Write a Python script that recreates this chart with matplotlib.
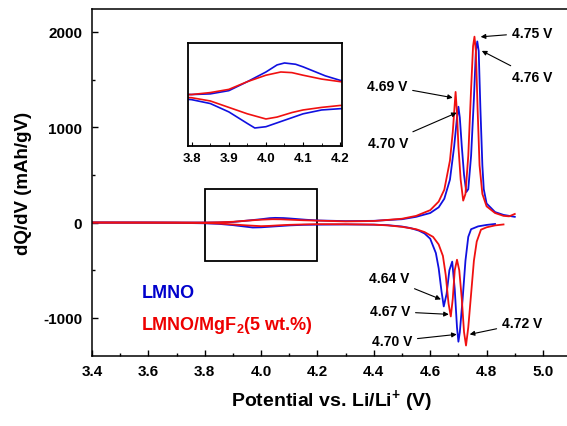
import matplotlib
matplotlib.use("Agg")
import matplotlib.pyplot as plt
from matplotlib.patches import Rectangle
from matplotlib.ticker import MultipleLocator

plt.rcParams["font.family"] = ["Liberation Sans", "DejaVu Sans"]
plt.rcParams["font.weight"] = "bold"
plt.rcParams["axes.unicode_minus"] = False
plt.rcParams["mathtext.fontset"] = "custom"
plt.rcParams["mathtext.rm"] = "Liberation Sans:bold"
plt.rcParams["mathtext.bf"] = "Liberation Sans:bold"
plt.rcParams["mathtext.it"] = "Liberation Sans:bold"

# LMNO, charge (positive) branch
lmno_chg_v = [3.40, 3.60, 3.70, 3.80, 3.85, 3.90, 3.95, 4.00, 4.03, 4.05, 4.08,
              4.10, 4.13, 4.16, 4.20, 4.30, 4.40, 4.50, 4.55, 4.60, 4.63, 4.65,
              4.67, 4.685, 4.695, 4.70, 4.705, 4.712, 4.72, 4.728, 4.735, 4.745,
              4.755, 4.762, 4.767, 4.772, 4.778, 4.785, 4.79, 4.80, 4.83, 4.86, 4.90]
lmno_chg = [0, 0, 0, 0, 1, 6, 20, 35, 46, 49, 47,
            43, 36, 29, 22, 15, 18, 35, 60, 100, 160, 250,
            450, 800, 1100, 1215, 1100, 800, 500, 320, 350, 700,
            1300, 1800, 1900, 1800, 1200, 600, 350, 200, 110, 80, 60]

# LMNO, discharge (negative) branch
lmno_dis_v = [4.83, 4.80, 4.77, 4.745, 4.735, 4.725, 4.715, 4.705, 4.70, 4.695,
              4.687, 4.678, 4.668, 4.658, 4.648, 4.64, 4.63, 4.62, 4.60, 4.58,
              4.56, 4.53, 4.50, 4.45, 4.40, 4.30, 4.20, 4.15, 4.10, 4.07, 4.03,
              4.00, 3.97, 3.95, 3.90, 3.85, 3.80, 3.70, 3.60, 3.40]
lmno_dis = [-15, -25, -40, -70, -150, -400, -800, -1150, -1250, -1100,
            -700, -410, -500, -750, -880, -720, -480, -320, -170, -115,
            -85, -58, -42, -28, -22, -20, -22, -24, -30, -36, -44,
            -50, -52, -45, -27, -14, -8, -3, -1, 0]

# LMNO/MgF2, charge branch
mgf_chg_v = [3.40, 3.60, 3.70, 3.80, 3.85, 3.90, 3.95, 4.00, 4.04, 4.07, 4.10,
             4.15, 4.20, 4.30, 4.40, 4.50, 4.55, 4.60, 4.63, 4.65, 4.67, 4.68,
             4.69, 4.695, 4.70, 4.708, 4.717, 4.725, 4.735, 4.745, 4.752, 4.757,
             4.762, 4.768, 4.775, 4.785, 4.80, 4.83, 4.86, 4.88, 4.90]
mgf_chg = [0, 0, 0, 0, 3, 8, 20, 30, 35, 34, 30,
           24, 20, 12, 16, 40, 70, 130, 220, 345, 650, 950,
           1370, 1150, 800, 450, 230, 300, 700, 1400, 1850, 1950,
           1800, 1200, 600, 300, 170, 100, 70, 65, 90]

# LMNO/MgF2, discharge branch
mgf_dis_v = [4.86, 4.83, 4.80, 4.78, 4.765, 4.755, 4.745, 4.735, 4.727, 4.72,
             4.712, 4.703, 4.695, 4.687, 4.68, 4.673, 4.665, 4.655, 4.645, 4.63,
             4.61, 4.58, 4.55, 4.50, 4.45, 4.40, 4.30, 4.20, 4.15, 4.10, 4.07,
             4.03, 4.00, 3.95, 3.90, 3.85, 3.80, 3.70, 3.60, 3.40]
mgf_dis = [-20, -30, -50, -75, -200, -400, -750, -1100, -1290, -1150,
           -800, -500, -390, -500, -800, -985, -850, -550, -350, -230,
           -150, -100, -70, -45, -30, -22, -18, -17, -20, -24, -28,
           -35, -38, -30, -20, -10, -5, -2, -1, 0]

# peak labels: (text, text x, text y, arrow x, arrow y)
peak_labels = [
    ("4.75 V", 4.89, 1990, 4.779, 1948),
    ("4.76 V", 4.89, 1529, 4.783, 1801),
    ("4.69 V", 4.375, 1435, 4.68, 1309),
    ("4.70 V", 4.378, 838, 4.694, 1152),
    ("4.64 V", 4.382, -586, 4.638, -806),
    ("4.67 V", 4.385, -932, 4.666, -963),
    ("4.70 V", 4.392, -1246, 4.694, -1173),
    ("4.72 V", 4.855, -1058, 4.74, -1173),
]

blue = "#1010e0"
red = "#f01010"

fig = plt.figure(figsize=(5.67, 4.27), dpi=100)
ax = fig.add_axes([0.1623, 0.1639, 0.845, 0.8127])

ax.plot(lmno_chg_v, lmno_chg, color=blue, lw=1.3)
ax.plot(lmno_dis_v, lmno_dis, color=blue, lw=1.3)
ax.plot(mgf_chg_v, mgf_chg, color=red, lw=1.3)
ax.plot(mgf_dis_v, mgf_dis, color=red, lw=1.3)

ax.set_xlim(3.4, 5.1)
ax.set_ylim(-1400, 2240)
ax.xaxis.set_major_locator(MultipleLocator(0.2))
ax.xaxis.set_minor_locator(MultipleLocator(0.1))
ax.yaxis.set_major_locator(MultipleLocator(1000))
ax.yaxis.set_minor_locator(MultipleLocator(500))
ax.tick_params(which="both", direction="in", labelsize=11, width=1)
ax.tick_params(which="major", length=4.5)
ax.tick_params(which="minor", length=2.5)
ax.tick_params(axis="y", pad=7)
ax.tick_params(axis="x", pad=6)
for s in ax.spines.values():
    s.set_linewidth(1.1)

ax.set_xlabel("Potential vs. Li/Li$^{+}$ (V)", fontsize=14, fontweight="bold", labelpad=6)
ax.set_ylabel("dQ/dV (mAh/gV)", fontsize=13.5, fontweight="bold", labelpad=8)

ax.add_patch(Rectangle((3.8, -400), 0.4, 750, fill=False, ec="black", lw=1.3))

for txt, tx, ty, px, py in peak_labels:
    ax.annotate(txt, xy=(px, py), xytext=(tx, ty), fontsize=10, fontweight="bold",
                ha="left", va="center",
                arrowprops=dict(arrowstyle="-|>", color="black", lw=0.8,
                                mutation_scale=7, shrinkA=2, shrinkB=0))

ax.text(3.575, -733, "LMNO", color="#0000cc", fontsize=13, fontweight="bold", va="center")
ax.text(3.575, -1068, "LMNO/MgF$_{2}$(5 wt.%)", color="#ee0000", fontsize=13,
        fontweight="bold", va="center")

ins = fig.add_axes([0.3316, 0.6557, 0.2716, 0.2412])
ins.plot(lmno_chg_v, lmno_chg, color=blue, lw=1.2)
ins.plot(lmno_dis_v, lmno_dis, color=blue, lw=1.2)
ins.plot(mgf_chg_v, mgf_chg, color=red, lw=1.2)
ins.plot(mgf_dis_v, mgf_dis, color=red, lw=1.2)
ins.set_xlim(3.79, 4.205)
ins.set_ylim(-80, 80)
ins.set_yticks([])
ins.xaxis.set_major_locator(MultipleLocator(0.1))
ins.xaxis.set_minor_locator(MultipleLocator(0.05))
ins.tick_params(which="both", direction="in", labelsize=9.5, pad=4)
ins.tick_params(which="major", length=3)
ins.tick_params(which="minor", length=2)
for s in ins.spines.values():
    s.set_linewidth(1.3)

fig.savefig("out.png", dpi=100)
